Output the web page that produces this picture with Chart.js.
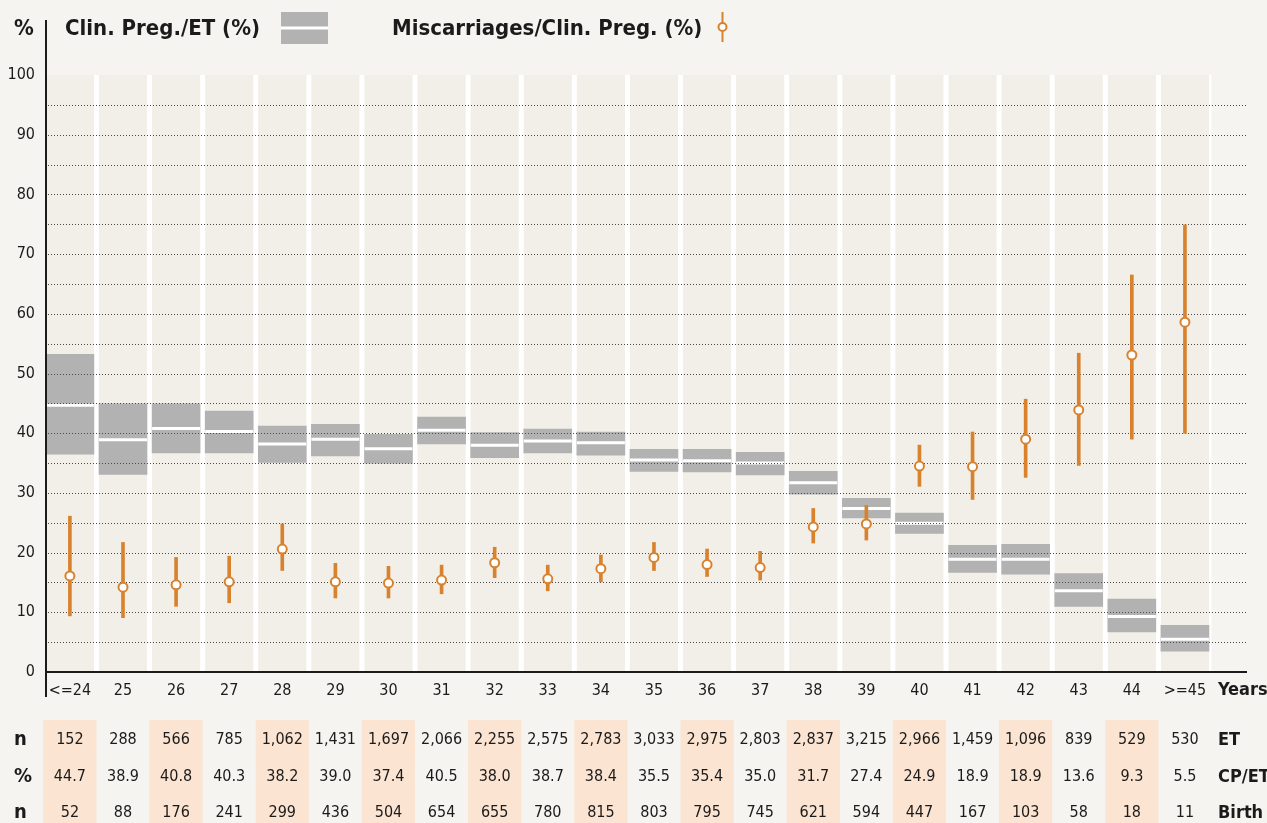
<!DOCTYPE html>
<html>
<head>
<meta charset="utf-8">
<title>Clinical pregnancy and miscarriage rates by age</title>
<script src="https://cdn.jsdelivr.net/npm/chart.js@4.4.1/dist/chart.umd.min.js"></script>
<style>
  html, body { margin: 0; padding: 0; background: #f5f4f0; }
  #wrap { width: 1267px; height: 823px; }
</style>
</head>
<body>
<div id="wrap"><canvas id="ageChart" width="1267" height="823"></canvas></div>
<script>
"use strict"

//Age groups on the x-axis
const ages = ['<=24', '25', '26', '27', '28', '29', '30', '31', '32', '33', '34',
    '35', '36', '37', '38', '39', '40', '41', '42', '43', '44', '>=45'];

//Clinical pregnancies per embryo transfer (%) with confidence interval
const cpRate = [44.7, 38.9, 40.8, 40.3, 38.2, 39.0, 37.4, 40.5, 38.0, 38.7, 38.4,
    35.5, 35.4, 35.0, 31.7, 27.4, 24.9, 18.9, 18.9, 13.6, 9.3, 5.5];
const cpLow = [36.5, 33.1, 36.7, 36.7, 35.1, 36.2, 35.0, 38.2, 35.9, 36.7, 36.3,
    33.6, 33.5, 33.0, 29.8, 25.8, 23.2, 16.7, 16.4, 11.0, 6.7, 3.5];
const cpHigh = [53.2, 44.9, 44.9, 43.7, 41.2, 41.5, 39.8, 42.7, 40.1, 40.7, 40.2,
    37.3, 37.3, 36.8, 33.6, 29.1, 26.6, 21.2, 21.4, 16.5, 12.2, 7.8];

//Miscarriages per clinical pregnancy (%) with confidence interval
const mcRate = [16.1, 14.2, 14.6, 15.1, 20.6, 15.1, 14.9, 15.4, 18.3, 15.6, 17.3,
    19.2, 18.0, 17.5, 24.3, 24.8, 34.5, 34.4, 39.0, 43.9, 53.1, 58.6];
const mcLow = [9.4, 9.1, 11.0, 11.6, 17.0, 12.4, 12.4, 13.1, 15.8, 13.6, 15.1,
    17.0, 16.0, 15.4, 21.6, 22.1, 31.1, 28.9, 32.6, 34.6, 39.0, 40.0];
const mcHigh = [26.1, 21.7, 19.2, 19.4, 24.8, 18.2, 17.7, 17.9, 20.9, 17.9, 19.6,
    21.7, 20.6, 20.2, 27.4, 27.9, 38.0, 40.2, 45.7, 53.4, 66.5, 74.9];

//Table under the chart
const etCount = [152, 288, 566, 785, 1062, 1431, 1697, 2066, 2255, 2575, 2783,
    3033, 2975, 2803, 2837, 3215, 2966, 1459, 1096, 839, 529, 530];
const birthCount = [52, 88, 176, 241, 299, 436, 504, 654, 655, 780, 815,
    803, 795, 745, 621, 594, 447, 167, 103, 58, 18, 11];

const yTicks = [0, 10, 20, 30, 40, 50, 60, 70, 80, 90, 100];

const FONT = "'Liberation Sans Narrow', 'DejaVu Sans Condensed', sans-serif";
const ORANGE = '#d9822e';
const GREY = '#b2b2b2';
const INK = '#1b1b1b';

const canvas = document.getElementById('ageChart');

//Background, columns, dotted grid, axes, legend and table
const decorPlugin = {
    id: 'decor',
    beforeDraw(chart) {
        const ctx = chart.ctx;
        const x = chart.scales.x;
        const y = chart.scales.y;
        const pitch = x.getPixelForValue(1) - x.getPixelForValue(0);
        ctx.save();
        ctx.fillStyle = '#f5f4f0';
        ctx.fillRect(0, 0, chart.width, chart.height);

        //peach stripes in the table
        ctx.fillStyle = '#fbe4d1';
        for(let i = 0; i < ages.length; i += 2) {
            const cx = x.getPixelForValue(i);
            ctx.fillRect(cx - pitch / 2, 720, pitch, chart.height - 720);
        }

        //white gaps and light columns
        const top = y.getPixelForValue(100);
        const bottom = y.getPixelForValue(0);
        const right = x.getPixelForValue(ages.length - 1) + pitch / 2;
        ctx.fillStyle = '#ffffff';
        ctx.fillRect(chart.chartArea.left, top, right - chart.chartArea.left, bottom - top);
        ctx.fillStyle = '#f2efe8';
        for(let i = 0; i < ages.length; i++) {
            const cx = x.getPixelForValue(i);
            const l = Math.max(cx - pitch / 2 + 2.5, chart.chartArea.left);
            ctx.fillRect(l, top, cx + pitch / 2 - 2.5 - l, bottom - top);
        }
        ctx.restore();
    },
    afterDatasetDraw(chart, args) {
        if(args.index !== 2) {
            return;
        }
        const ctx = chart.ctx;
        const y = chart.scales.y;
        ctx.save();
        ctx.strokeStyle = '#4a4a4a';
        ctx.lineWidth = 1;
        ctx.setLineDash([1, 2]);
        for(let v = 5; v < 100; v += 5) {
            const py = Math.round(y.getPixelForValue(v)) + 0.5;
            ctx.beginPath();
            ctx.moveTo(chart.chartArea.left + 2, py);
            ctx.lineTo(chart.chartArea.right, py);
            ctx.stroke();
        }
        ctx.restore();
    },
    afterDraw(chart) {
        const ctx = chart.ctx;
        const x = chart.scales.x;
        const y = chart.scales.y;
        const left = chart.chartArea.left;
        const base = y.getPixelForValue(0);
        ctx.save();

        //axis lines
        ctx.strokeStyle = INK;
        ctx.lineWidth = 2;
        ctx.beginPath();
        ctx.moveTo(left, 20);
        ctx.lineTo(left, 697);
        ctx.moveTo(left, base);
        ctx.lineTo(chart.chartArea.right + 1, base);
        ctx.stroke();

        //legend
        ctx.fillStyle = INK;
        ctx.textBaseline = 'middle';
        ctx.textAlign = 'left';
        ctx.font = 'bold 22px ' + FONT;
        ctx.fillText('%', 14, 29);
        ctx.fillText('Clin. Preg./ET (%)', 65, 29);
        ctx.fillText('Miscarriages/Clin. Preg. (%)', 392, 29);

        ctx.fillStyle = GREY;
        ctx.fillRect(281, 12, 47, 32);
        ctx.fillStyle = '#ffffff';
        ctx.fillRect(281, 26.5, 47, 3);

        ctx.strokeStyle = ORANGE;
        ctx.lineWidth = 2;
        ctx.beginPath();
        ctx.moveTo(722.5, 12);
        ctx.lineTo(722.5, 42);
        ctx.stroke();
        ctx.fillStyle = '#ffffff';
        ctx.beginPath();
        ctx.arc(722.5, 27, 4, 0, Math.PI * 2);
        ctx.fill();
        ctx.stroke();

        //x-axis title
        ctx.fillStyle = INK;
        ctx.font = 'bold 18px ' + FONT;
        ctx.fillText('Years', 1218, 690);

        //table
        const rows = [
            {label: 'n', unit: 'ET', y: 740, values: etCount.map(v => v.toLocaleString('en-US'))},
            {label: '%', unit: 'CP/ET', y: 777, values: cpRate.map(v => v.toFixed(1))},
            {label: 'n', unit: 'Birth', y: 813, values: birthCount.map(v => v.toLocaleString('en-US'))}
        ];
        rows.forEach(row => {
            ctx.font = 'bold 20px ' + FONT;
            ctx.textAlign = 'left';
            ctx.fillText(row.label, 14, row.y);
            ctx.font = 'bold 18px ' + FONT;
            ctx.fillText(row.unit, 1218, row.y);
            ctx.font = '16px ' + FONT;
            ctx.textAlign = 'center';
            row.values.forEach((txt, i) => {
                ctx.fillText(txt, x.getPixelForValue(i), row.y);
            });
        });
        ctx.restore();
    }
};

new Chart(canvas, {
    type: 'bar',
    data: {
        datasets: [
            {
                type: 'line',
                label: 'Miscarriages/Clin. Preg. (%)',
                data: mcRate.map((v, i) => ({x: i, y: v})),
                showLine: false,
                pointRadius: 4.5,
                pointBorderWidth: 2,
                pointBackgroundColor: '#ffffff',
                pointBorderColor: ORANGE,
                order: 0
            },
            {
                label: 'Miscarriage interval',
                data: mcLow.map((v, i) => ({x: i, y: [v, mcHigh[i]]})),
                backgroundColor: ORANGE,
                barThickness: 3,
                grouped: false,
                order: 1
            },
            {
                type: 'line',
                label: 'Clin. Preg./ET (%)',
                data: cpRate.map((v, i) => ({x: i, y: v})),
                showLine: false,
                pointStyle: 'line',
                pointRadius: 24,
                pointBorderWidth: 3,
                pointBorderColor: '#ffffff',
                order: 2
            },
            {
                label: 'Clin. Preg. interval',
                data: cpLow.map((v, i) => ({x: i, y: [v, cpHigh[i]]})),
                backgroundColor: GREY,
                barThickness: 48,
                grouped: false,
                order: 3
            }
        ]
    },
    options: {
        responsive: false,
        animation: false,
        devicePixelRatio: 1,
        layout: {autoPadding: false, padding: {top: 75, right: 21, left: 0, bottom: 0}},
        plugins: {
            legend: {display: false},
            tooltip: {enabled: false}
        },
        scales: {
            x: {
                type: 'linear',
                offset: false,
                min: -0.45,
                max: 22.15,
                grid: {display: false, drawTicks: false},
                border: {display: false},
                afterBuildTicks: scale => {
                    scale.ticks = ages.map((a, i) => ({value: i}));
                },
                afterFit: scale => {
                    scale.height = 151;
                    scale.paddingLeft = 0;
                    scale.paddingRight = 0;
                },
                ticks: {
                    autoSkip: false,
                    maxRotation: 0,
                    padding: 9,
                    color: INK,
                    font: {family: FONT, size: 16},
                    callback: value => ages[value]
                }
            },
            y: {
                min: 0,
                max: 100,
                grid: {display: false, drawTicks: false},
                border: {display: false},
                afterBuildTicks: scale => {
                    scale.ticks = yTicks.map(v => ({value: v}));
                },
                afterFit: scale => {
                    scale.width = 46;
                },
                ticks: {
                    padding: 11,
                    color: INK,
                    font: {family: FONT, size: 16}
                }
            }
        }
    },
    plugins: [decorPlugin]
});
</script>
</body>
</html>
